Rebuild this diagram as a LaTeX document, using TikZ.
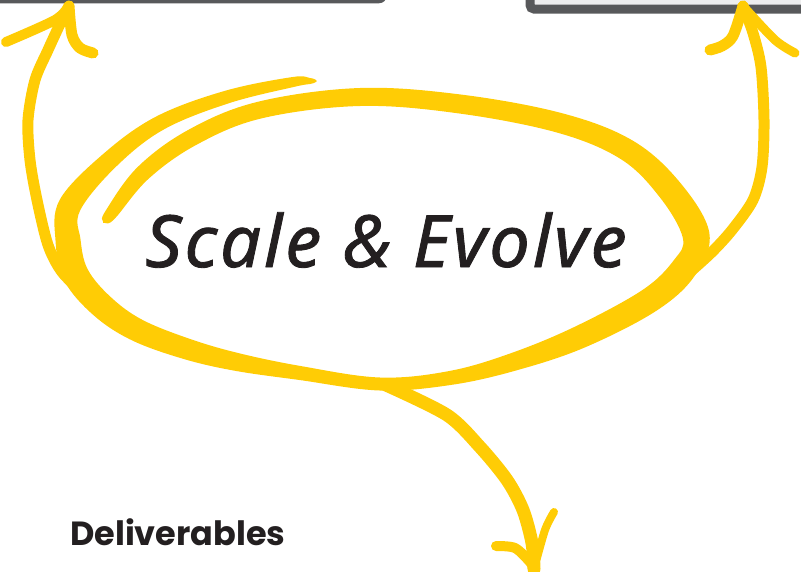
\documentclass[tikz,border=0pt]{standalone}
\usepackage{fontspec}
\usetikzlibrary{calc}
\newfontfamily\handfont{Noto Sans}[LetterSpace=4.0,FakeBold=1.2]
\newfontfamily\labelfont{Poppins}
\definecolor{marker}{HTML}{FFCC05}
\definecolor{ink}{HTML}{231F20}
\definecolor{framegray}{HTML}{58595B}
\definecolor{panel}{HTML}{EDEDEE}
\begin{document}
\begin{tikzpicture}[x=1pt,y=-1pt,
    brush/.style={marker,line cap=round,line join=round},
    panelbox/.style={draw=framegray,fill=panel}]
  \useasboundingbox (0,0) rectangle (801,571);
  % boxes cut off by the top edge
  \draw[panelbox,line width=3.5,rounded corners=6] (-20,-60) rectangle (385,1.5);
  \draw[panelbox,line width=9,rounded corners=4] (530,-60) rectangle (830,9);
  % texts
  \node[anchor=base,inner sep=0,text=ink,font=\handfont\itshape\fontsize{72}{80}\selectfont] (title) at (386,267) {Scale \& Evolve};
  \node[anchor=base west,inner sep=0,text=ink,font=\labelfont\bfseries\fontsize{33.5}{40}\selectfont] (deliv) at (70,545) {Deliverables};
  % the loop round the title: x/y/width of the brush
  \def\loopdata{104/222/3, 110/215/12, 143/173/16, 193/137/17, 260/110/17, 360/97/18,
    460/104/19, 560/123/20, 627/150/22, 670/190/25, 696/235/27, 685/267/26, 650/300/25,
    580/337/23, 513/362/18, 450/378/14, 380/384/13, 300/373/14, 237/362/18, 187/349/21,
    137/330/23, 102/306/25, 76/275/26, 68/240/25, 70/205/23, 110/160/18, 160/123/15,
    227/97/13, 293/82/10, 310/81/6, 316/81/2}
  \foreach \x/\y/\w [count=\i] in \loopdata {
    \coordinate (P\i) at (\x,\y);
    \expandafter\xdef\csname lw\i\endcsname{\w}
    \xdef\nloop{\i}
  }
  \gdef\outerpts{}\gdef\innerpts{}
  \foreach \i in {1,...,\nloop} {
    \pgfmathtruncatemacro\iprev{max(\i-1,1)}
    \pgfmathtruncatemacro\inext{min(\i+1,\nloop)}
    \pgfmathsetmacro\hw{\csname lw\i\endcsname/2}
    \coordinate (D\i) at ($(P\i)+(P\inext)-(P\iprev)$);
    \coordinate (o\i) at ($(P\i)!\hw pt!90:(D\i)$);
    \coordinate (q\i) at ($(P\i)!\hw pt!-90:(D\i)$);
    \xdef\outerpts{\outerpts (o\i)}
    \xdef\innerpts{(q\i) \innerpts}
  }
  \edef\loopfill{\noexpand\fill[marker] plot[smooth cycle,tension=0.6] coordinates {\outerpts\innerpts};}
  \loopfill
  % ends of the arrows
  \coordinate (shaftL) at (86,296);
  \coordinate (tipL) at (69,6);
  \coordinate (shaftR) at (690,272);
  \coordinate (tipR) at (743,6);
  \coordinate (shaftD) at (386,385);
  \coordinate (tipD) at (534,569);
  % arrow to the left box
  \draw[brush,line width=11] plot[smooth] coordinates {(shaftL) (62,272) (48,245) (37,200) (30,160) (28,120) (35,80) (48,50) (60,24) (tipL)};
  \draw[brush,line width=10] plot[smooth] coordinates {(tipL) (55,20) (6,42)};
  \draw[brush,line width=11] plot[smooth] coordinates {(tipL) (72,35) (80,48) (93,53)};
  % arrow to the right box
  \draw[brush,line width=11] plot[smooth] coordinates {(shaftR) (712,252) (732,230) (753,200) (762,167) (764,120) (761,67) (753,33) (tipR)};
  \draw[brush,line width=11] plot[smooth] coordinates {(tipR) (733,36) (722,46) (710,50)};
  \draw[brush,line width=9] plot[smooth] coordinates {(tipR) (775,40) (795,53)};
  % arrow down to the deliverables
  \draw[brush,line width=13] plot[smooth] coordinates {(shaftD) (447,415) (480,447) (507,480) (523,510) (532,543) (tipD)};
  \draw[brush,line width=10] plot[smooth] coordinates {(496,546) (515,548) (530,562) (tipD)};
  \draw[brush,line width=8] plot[smooth] coordinates {(tipD) (545,530) (554,512)};
\end{tikzpicture}
\end{document}
